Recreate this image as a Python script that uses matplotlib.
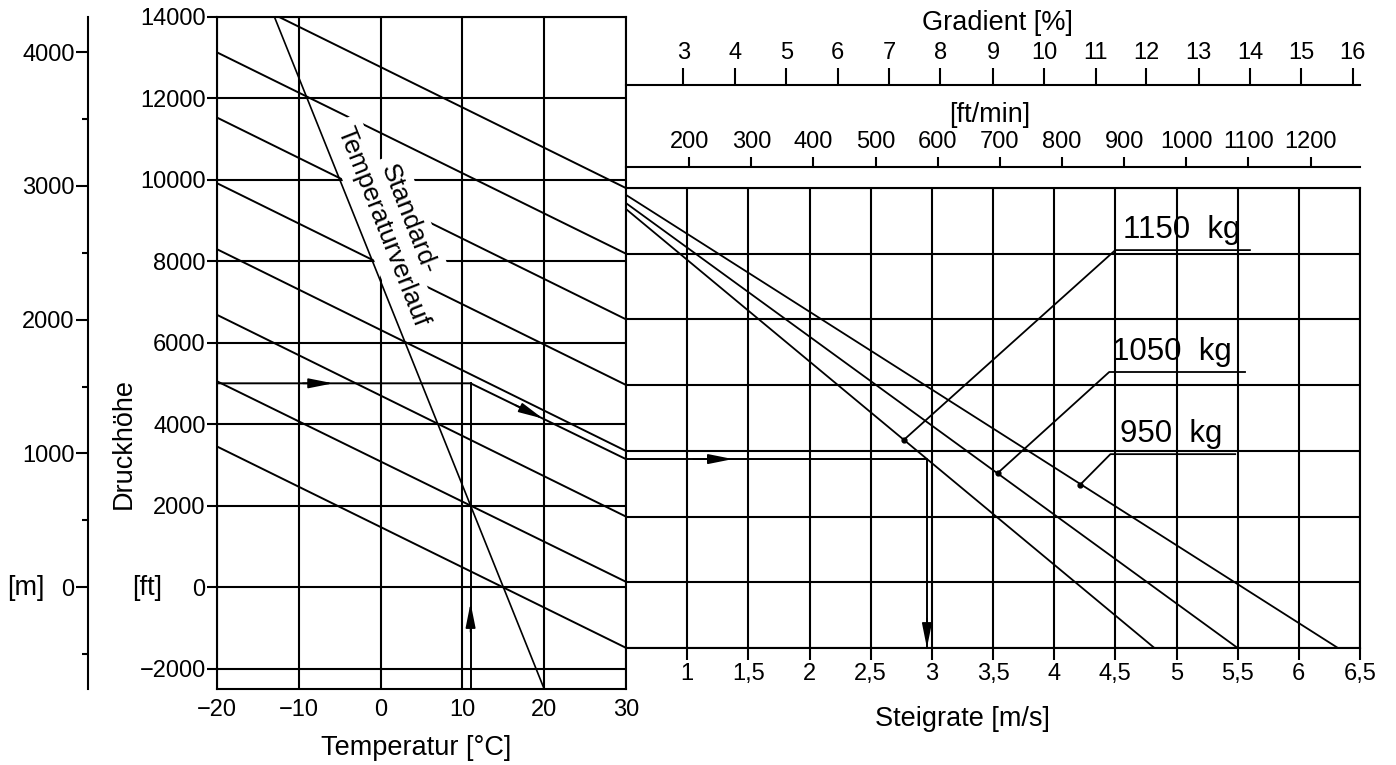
import matplotlib.pyplot as plt

plt.rcParams['font.family'] = ['Liberation Sans', 'DejaVu Sans']

# ---- values ----
temp_ticks = [-20, -10, 0, 10, 20, 30]
ft_ticks = [-2000, 0, 2000, 4000, 6000, 8000, 10000, 12000, 14000]
m_ticks = [0, 1000, 2000, 3000, 4000]
m_minor = [-500, 500, 1500, 2500, 3500]

# standard temperature line (degC, ft)
std_temp = [-13, 20]
std_ft = [14000, -2500]

# density altitude lines: pressure altitude at -20 degC and at 30 degC
da_levels = [0, 2000, 4000, 6000, 8000, 10000, 12000, 14000]
da_ft_cold = [3450, 5050, 6680, 8290, 9910, 11520, 13120, 14740]
da_ft_warm = [-1490, 130, 1730, 3340, 4960, 6570, 8180, 9790]

# climb rate lines per mass (start at 0.5 m/s, end at density altitude 0)
masses = ['950  kg', '1050  kg', '1150  kg']
mass_start_da = [13790, 13540, 13360]
mass_end_rate = [6.32, 5.50, 4.82]
dot_rate = [4.21, 3.54, 2.77]
dot_da = [4960, 5330, 6330]
lead_rate = [4.46, 4.45, 4.50]
lead_da = [5900, 8400, 12110]
under_end = [5.48, 5.56, 5.60]
text_rate = [4.54, 4.47, 4.56]

rate_ticks = [1, 1.5, 2, 2.5, 3, 3.5, 4, 4.5, 5, 5.5, 6, 6.5]
rate_labels = ['1', '1,5', '2', '2,5', '3', '3,5', '4', '4,5', '5', '5,5', '6', '6,5']
fpm_ticks = [200, 300, 400, 500, 600, 700, 800, 900, 1000, 1100, 1200]
grad_labels = ['3', '4', '5', '6', '7', '8', '9', '10', '11', '12', '13', '14', '15', '16']
grad_pos = [0.97, 1.39, 1.81, 2.23, 2.65, 3.07, 3.50, 3.92, 4.34, 4.75, 5.18, 5.60, 6.02, 6.44]

# worked example
ex_temp = 11
ex_ft = 5000
ex_ft_warm = 3140
ex_da = 5750
ex_rate = 2.96

W, H = 1396, 765
NUM = ['Liberation Sans Narrow', 'Liberation Sans', 'DejaVu Sans']
LW = 1.5


def frac(x0, y_top, x1, y_bot):
    return [x0 / W, 1 - y_bot / H, (x1 - x0) / W, (y_bot - y_top) / H]


def px(x, y):
    return x / W, 1 - y / H


def head(a, tip, base):
    a.annotate('', xy=tip, xytext=base, annotation_clip=False, zorder=6,
               arrowprops=dict(arrowstyle='-|>,head_length=1.5,head_width=0.3',
                               color='k', lw=1.2, shrinkA=0, shrinkB=0,
                               mutation_scale=10))


fig = plt.figure(figsize=(W / 100, H / 100), dpi=100)

# ---- left panel: temperature / pressure altitude ----
ax = fig.add_axes(frac(217, 16.5, 626, 689))
ax.set_xlim(-20, 30)
ax.set_ylim(-2500, 14000)
ax.set_xticks(temp_ticks, labels=[str(t).replace('-', '\u2212') for t in temp_ticks],
              fontsize=17, fontfamily=NUM)
ax.set_yticks(ft_ticks, labels=[str(t).replace('-', '\u2212') for t in ft_ticks],
              fontsize=17, fontfamily=NUM)
ax.tick_params(axis='x', length=0, pad=7)
ax.tick_params(axis='y', length=7.2, width=LW, pad=1)
ax.grid(True, color='k', lw=LW)
ax.set_axisbelow(True)
for s in ax.spines.values():
    s.set_linewidth(LW)

for a, b in zip(da_ft_cold, da_ft_warm):
    ax.plot([-20, 30], [a, b], color='k', lw=1.4, zorder=2)
ax.plot(std_temp, std_ft, color='k', lw=1.2, zorder=5)

ax.plot([-20, ex_temp, 30], [ex_ft, ex_ft, ex_ft_warm], color='k', lw=1.4, zorder=3)
ax.plot([ex_temp, ex_temp], [-2500, ex_ft], color='k', lw=1.4, zorder=3)
head(ax, (-5.8, ex_ft), (-9.5, ex_ft))
head(ax, (19.85, 4134), (16.5, 4462))
head(ax, (ex_temp, -390), (ex_temp, -1100))

# label along the standard line: white masks first, then the letters on top
label_pos = [(0.21, 8845, 'Temperaturverlauf'), (3.39, 9029, 'Standard-')]
box = dict(boxstyle='square,pad=0.3', facecolor='white', edgecolor='none')
for t, f, s in label_pos:
    ax.text(t, f, s, rotation=-68.5, rotation_mode='anchor', ha='center', va='center',
            fontsize=19, color='white', bbox=box, zorder=4)
for t, f, s in label_pos:
    ax.text(t, f, s, rotation=-68.5, rotation_mode='anchor', ha='center', va='center',
            fontsize=19, color='k', zorder=4.5)

# ---- metre scale ----
axm = fig.add_axes(frac(88, 16.5, 88.1, 689))
axm.set_ylim(-2500 * 0.3048, 14000 * 0.3048)
axm.set_yticks(m_ticks, labels=[str(t) for t in m_ticks], fontsize=17, fontfamily=NUM)
axm.set_yticks(m_minor, minor=True)
axm.tick_params(axis='y', which='major', length=8.6, width=LW, pad=1)
axm.tick_params(axis='y', which='minor', length=4.3, width=LW)
axm.set_xticks([])
for k, s in axm.spines.items():
    s.set_visible(k == 'left')
    s.set_linewidth(LW)
axm.patch.set_visible(False)

# ---- right panel: climb rate ----
ax2 = fig.add_axes(frac(626, 188, 1360, 648))
ax2.set_xlim(0.5, 6.5)
ax2.set_ylim(0, 14000)
ax2.set_xticks(rate_ticks, labels=rate_labels, fontsize=17, fontfamily=NUM)
ax2.set_yticks(da_levels)
ax2.tick_params(axis='y', length=0, labelleft=False)
ax2.tick_params(axis='x', length=8.6, width=LW, pad=2)
ax2.grid(True, color='k', lw=LW)
ax2.set_axisbelow(True)
ax2.spines['left'].set_visible(False)
for s in ax2.spines.values():
    s.set_linewidth(LW)
ax2.patch.set_visible(False)

for s0, e in zip(mass_start_da, mass_end_rate):
    ax2.plot([0.5, e], [s0, 0], color='k', lw=1.3)
for i, name in enumerate(masses):
    ax2.plot([dot_rate[i], lead_rate[i], under_end[i]], [dot_da[i], lead_da[i], lead_da[i]],
             color='k', lw=1.3)
    ax2.plot(dot_rate[i], dot_da[i], 'o', color='k', ms=3.5)
    ax2.text(text_rate[i], lead_da[i] + 365, name, ha='left', va='baseline',
             fontsize=22.5, fontfamily=NUM)

ax2.plot([0.5, ex_rate, ex_rate], [ex_da, ex_da, 0], color='k', lw=1.4, zorder=3)
head(ax2, (1.374, ex_da), (1.05, ex_da))
head(ax2, (ex_rate, 0), (ex_rate, 900))

# ---- ft/min scale ----
ax3 = fig.add_axes(frac(626, 167, 1360, 167.1))
ax3.set_xlim(0.5 * 196.85, 6.5 * 196.85)
ax3.xaxis.tick_top()
ax3.set_xticks(fpm_ticks, labels=[str(t) for t in fpm_ticks], fontsize=17, fontfamily=NUM)
ax3.tick_params(axis='x', length=7.2, width=LW, pad=3)
ax3.set_yticks([])
for k, s in ax3.spines.items():
    s.set_visible(k == 'top')
    s.set_linewidth(LW)
ax3.patch.set_visible(False)

# ---- gradient scale ----
ax4 = fig.add_axes(frac(626, 85, 1360, 85.1))
ax4.set_xlim(0.5, 6.5)
ax4.xaxis.tick_top()
ax4.set_xticks(grad_pos, labels=grad_labels, fontsize=17, fontfamily=NUM)
ax4.tick_params(axis='x', length=12.2, width=LW, pad=3)
ax4.set_yticks([])
for k, s in ax4.spines.items():
    s.set_visible(k == 'top')
    s.set_linewidth(LW)
ax4.patch.set_visible(False)

# ---- titles ----
fig.text(*px(997, 23), 'Gradient [%]', ha='center', va='center', fontsize=19.5)
fig.text(*px(990, 115), '[ft/min]', ha='center', va='center', fontsize=19.5)
fig.text(*px(962, 719), 'Steigrate [m/s]', ha='center', va='center', fontsize=19.5)
fig.text(*px(416, 748), 'Temperatur [°C]', ha='center', va='center', fontsize=19.5)
fig.text(*px(124, 443), 'Druckhöhe', ha='center', va='center', rotation=90, fontsize=19.5)
fig.text(*px(147, 588), '[ft]', ha='center', va='center', fontsize=19.5)
fig.text(*px(26, 588), '[m]', ha='center', va='center', fontsize=19.5)

fig.savefig('out.png', dpi=100)
